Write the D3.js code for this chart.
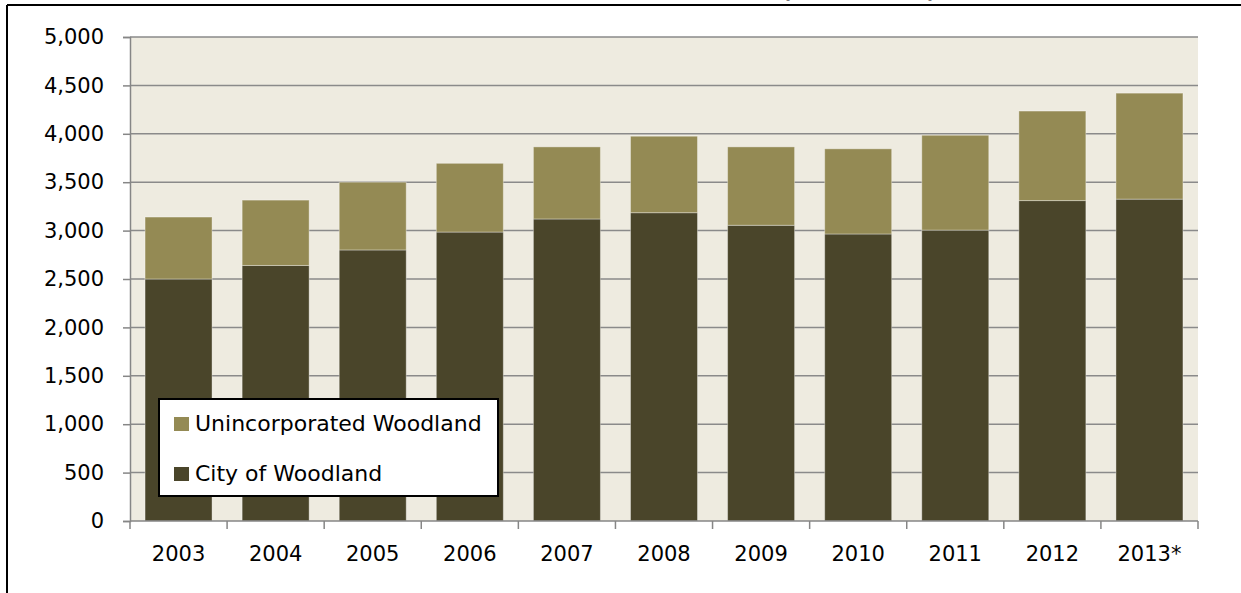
<!DOCTYPE html>
<html>
<head>
<meta charset="utf-8">
<script src="https://cdn.jsdelivr.net/npm/d3@7"></script>
<style>
  html, body { margin: 0; padding: 0; background: #fff; }
  svg { display: block; }
  text { font-family: "DejaVu Sans", sans-serif; fill: #000; }
</style>
</head>
<body>
<svg id="chart" width="1241" height="593"></svg>
<script>
const years = ["2003","2004","2005","2006","2007","2008","2009","2010","2011","2012","2013*"];
const cityOfWoodland = [2500, 2640, 2800, 2985, 3120, 3185, 3055, 2965, 3005, 3310, 3325];
const unincorporated = [640, 675, 700, 710, 745, 790, 810, 880, 980, 925, 1095];
const seriesNames = ["Unincorporated Woodland", "City of Woodland"];
const seriesColors = ["#948A54", "#4A452A"];
const yTicks = [0, 500, 1000, 1500, 2000, 2500, 3000, 3500, 4000, 4500, 5000];

const W = 1241, H = 593;
const plot = { left: 130, right: 1198, top: 37, bottom: 521 };
const svg = d3.select("#chart");
const fontSize = 21;

svg.append("rect").attr("width", W).attr("height", H).attr("fill", "#fff");

// partially clipped title (only parentheses visible at the top edge)
svg.append("text")
  .attr("x", 782).attr("y", -2)
  .attr("textLength", 154).attr("lengthAdjust", "spacingAndGlyphs")
  .attr("font-weight", "bold").attr("font-size", 20)
  .text("(2003 - 2013)");

// outer frame (top and left edges visible)
svg.append("line").attr("x1", 7).attr("y1", 5).attr("x2", W).attr("y2", 5)
  .attr("stroke", "#000").attr("stroke-width", 2);
svg.append("line").attr("x1", 7).attr("y1", 5).attr("x2", 7).attr("y2", H)
  .attr("stroke", "#000").attr("stroke-width", 2);

const x = d3.scaleBand().domain(years).range([plot.left, plot.right])
  .paddingInner(0.31).paddingOuter(0.155);
const y = d3.scaleLinear().domain([0, 5000]).range([plot.bottom, plot.top]);

// plot background
svg.append("rect").attr("x", plot.left).attr("y", plot.top)
  .attr("width", plot.right - plot.left).attr("height", plot.bottom - plot.top)
  .attr("fill", "#EEEBE0");

// gridlines
svg.append("g").selectAll("line").data(yTicks.filter(d => d > 0)).join("line")
  .attr("x1", plot.left).attr("x2", plot.right)
  .attr("y1", d => y(d)).attr("y2", d => y(d))
  .attr("stroke", "#8a8a8a").attr("stroke-width", 1.5);

// stacked bars
const data = years.map((yr, i) => ({ year: yr, city: cityOfWoodland[i], uninc: unincorporated[i] }));
const stack = d3.stack().keys(["city", "uninc"])(data);
const colorByKey = { city: seriesColors[1], uninc: seriesColors[0] };
svg.append("g").selectAll("g").data(stack).join("g")
  .attr("fill", d => colorByKey[d.key])
  .selectAll("rect").data(d => d).join("rect")
  .attr("x", d => x(d.data.year))
  .attr("width", x.bandwidth())
  .attr("y", d => y(d[1]))
  .attr("height", d => y(d[0]) - y(d[1]))
  .attr("stroke", "rgba(255,255,255,0.35)").attr("stroke-width", 1);

// axes
const axisColor = "#868686";
const yAxis = svg.append("g").attr("transform", `translate(${plot.left},0)`)
  .call(d3.axisLeft(y).tickValues(yTicks).tickSize(7).tickPadding(19)
    .tickFormat(d3.format(",")));
yAxis.select(".domain").attr("stroke", axisColor).attr("stroke-width", 1.5);
yAxis.selectAll(".tick line").attr("stroke", axisColor).attr("stroke-width", 1.5);
yAxis.selectAll(".tick text").attr("font-size", fontSize)
  .attr("font-family", "'DejaVu Sans', sans-serif").attr("fill", "#000");

const xAxisG = svg.append("g").attr("transform", `translate(0,${plot.bottom})`);
xAxisG.append("line").attr("x1", plot.left).attr("x2", plot.right)
  .attr("stroke", axisColor).attr("stroke-width", 1.5);
const step = x.step();
const bnds = years.map(yr => x(yr) - (step - x.bandwidth()) / 2);
bnds.push(plot.right);
xAxisG.selectAll("line.tk").data(bnds).join("line").attr("class", "tk")
  .attr("x1", d => d).attr("x2", d => d).attr("y1", 0).attr("y2", 8)
  .attr("stroke", axisColor).attr("stroke-width", 1.5);
xAxisG.selectAll("text").data(years).join("text")
  .attr("x", d => x(d) + x.bandwidth() / 2).attr("y", 40)
  .attr("text-anchor", "middle").attr("font-size", fontSize)
  .text(d => d);

// legend
const lg = svg.append("g");
lg.append("rect").attr("x", 159).attr("y", 399).attr("width", 339).attr("height", 97)
  .attr("fill", "#fff").attr("stroke", "#000").attr("stroke-width", 2);
const legendItems = seriesNames.map((n, i) => ({ name: n, color: seriesColors[i] }));
const li = lg.selectAll("g.item").data(legendItems).join("g").attr("class", "item")
  .attr("transform", (d, i) => `translate(174,${417 + i * 50})`);
li.append("rect").attr("width", 15).attr("height", 14).attr("fill", d => d.color);
li.append("text").attr("x", 21).attr("y", 14).attr("font-size", 22).text(d => d.name);
</script>
</body>
</html>
